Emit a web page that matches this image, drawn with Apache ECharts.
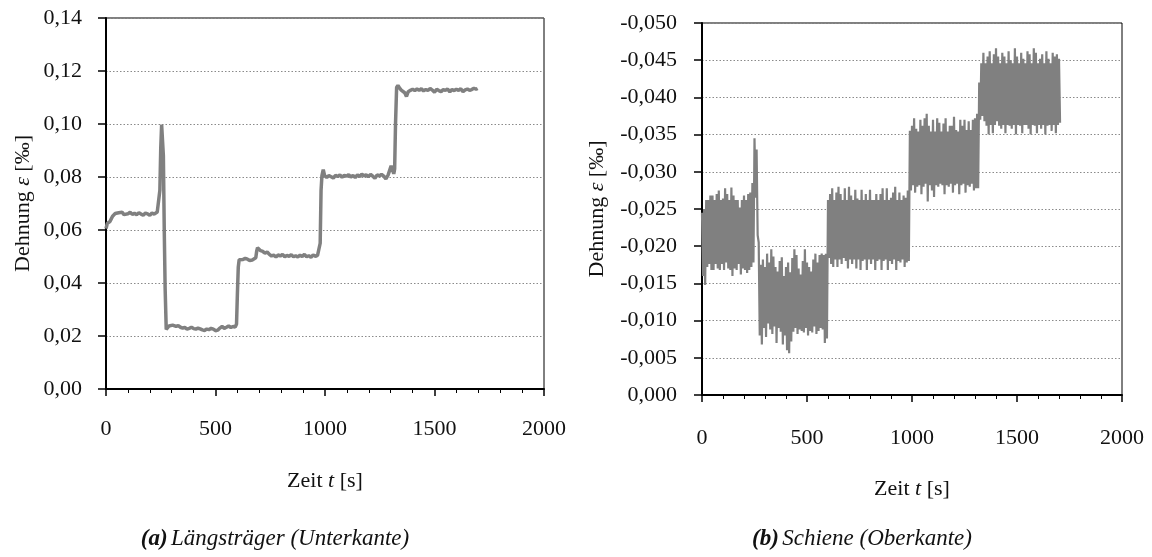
<!DOCTYPE html>
<html>
<head>
<meta charset="utf-8">
<script src="https://cdn.jsdelivr.net/npm/echarts@6/dist/echarts.min.js"></script>
<style>
  html, body { margin: 0; padding: 0; background: #fff; }
  #chart { width: 1152px; height: 557px; }
</style>
</head>
<body>
<div id="chart"></div>
<script>
// (a) Längsträger (Unterkante): Zeit [s] und Dehnung [‰]
const zeitL = [
  0, 3, 6, 10, 14, 18, 24, 30, 36, 42,
  50, 58, 66, 74, 82, 90, 100, 110, 120, 130,
  140, 150, 160, 170, 180, 190, 200, 210, 220, 228,
  234, 240, 246, 250, 254, 258, 262, 266, 270, 275,
  280, 288, 296, 304, 312, 320, 330, 340, 350, 360,
  370, 380, 390, 400, 410, 420, 430, 440, 450, 460,
  470, 480, 490, 500, 510, 520, 530, 540, 550, 560,
  570, 580, 590, 596, 600, 604, 608, 616, 626, 636,
  646, 656, 662, 668, 676, 684, 688, 692, 698, 706,
  716, 726, 736, 746, 756, 766, 776, 786, 796, 806,
  816, 826, 836, 846, 856, 866, 876, 886, 896, 906,
  916, 926, 936, 946, 956, 966, 974, 978, 982, 986,
  992, 998, 1008, 1018, 1028, 1038, 1048, 1058, 1068, 1078,
  1088, 1098, 1108, 1118, 1128, 1138, 1148, 1158, 1168, 1178,
  1188, 1198, 1208, 1218, 1228, 1238, 1248, 1258, 1268, 1278,
  1288, 1296, 1302, 1308, 1314, 1318, 1322, 1327, 1333, 1340,
  1348, 1356, 1364, 1372, 1380, 1390, 1400, 1410, 1420, 1430,
  1440, 1450, 1460, 1470, 1480, 1490, 1500, 1510, 1520, 1530,
  1540, 1550, 1560, 1570, 1580, 1590, 1600, 1610, 1620, 1630,
  1640, 1650, 1660, 1670, 1680, 1690, 1697
];
const dehnungL = [
  0.0605, 0.0615, 0.0625, 0.0618, 0.0630, 0.0632, 0.0642, 0.0652, 0.0648, 0.0662,
  0.0658, 0.0665, 0.0660, 0.0667, 0.0658, 0.0664, 0.0661, 0.0667, 0.0659, 0.0663,
  0.0658, 0.0665, 0.0660, 0.0656, 0.0664, 0.0661, 0.0655, 0.0664, 0.0660, 0.0658,
  0.0668, 0.0672, 0.0750, 0.0910, 0.0998, 0.0992, 0.0880, 0.0600, 0.0380, 0.0225,
  0.0232, 0.0238, 0.0236, 0.0241, 0.0238, 0.0236, 0.0239, 0.0233, 0.0230, 0.0232,
  0.0226, 0.0229, 0.0233, 0.0228, 0.0226, 0.0230, 0.0227, 0.0223, 0.0221, 0.0226,
  0.0224, 0.0229, 0.0226, 0.0220, 0.0222, 0.0230, 0.0236, 0.0229, 0.0233, 0.0238,
  0.0232, 0.0236, 0.0234, 0.0245, 0.0360, 0.0460, 0.0488, 0.0492, 0.0489, 0.0493,
  0.0490, 0.0485, 0.0478, 0.0487, 0.0491, 0.0495, 0.0520, 0.0533, 0.0528, 0.0522,
  0.0519, 0.0513, 0.0517, 0.0508, 0.0502, 0.0505, 0.0498, 0.0506, 0.0502, 0.0508,
  0.0499, 0.0504, 0.0501, 0.0507, 0.0499, 0.0503, 0.0498, 0.0505, 0.0500, 0.0508,
  0.0499, 0.0503, 0.0497, 0.0506, 0.0501, 0.0504, 0.0502, 0.0550, 0.0750, 0.0805,
  0.0828, 0.0806, 0.0798, 0.0805, 0.0801, 0.0796, 0.0806, 0.0802, 0.0808, 0.0799,
  0.0806, 0.0803, 0.0809, 0.0800, 0.0806, 0.0798, 0.0808, 0.0802, 0.0811, 0.0804,
  0.0808, 0.0801, 0.0810, 0.0803, 0.0795, 0.0808, 0.0804, 0.0810, 0.0803, 0.0793,
  0.0807, 0.0812, 0.0842, 0.0848, 0.0812, 0.0830, 0.1000, 0.1138, 0.1146, 0.1136,
  0.1128, 0.1124, 0.1118, 0.1104, 0.1122, 0.1127, 0.1131, 0.1126, 0.1132, 0.1127,
  0.1133, 0.1125, 0.1130, 0.1127, 0.1134, 0.1128, 0.1120, 0.1131, 0.1126, 0.1122,
  0.1130, 0.1127, 0.1132, 0.1121, 0.1130, 0.1126, 0.1131, 0.1127, 0.1133, 0.1122,
  0.1129, 0.1132, 0.1127, 0.1130, 0.1135, 0.1131, 0.1134
];

// (b) Schiene (Oberkante): obere / untere Ausschläge je 10 s ab t = 0
const schieneSchritt = 10;
const schieneOben = [
  -0.0245, -0.0250, -0.0262, -0.0262, -0.0268, -0.0268, -0.0262, -0.0270, -0.0275, -0.0262,
  -0.0264, -0.0278, -0.0270, -0.0262, -0.0279, -0.0268, -0.0262, -0.0262, -0.0252, -0.0262,
  -0.0268, -0.0262, -0.0270, -0.0272, -0.0285, -0.0345, -0.0330, -0.0205, -0.0175, -0.0182,
  -0.0172, -0.0190, -0.0178, -0.0196, -0.0186, -0.0172, -0.0166, -0.0180, -0.0185, -0.0160,
  -0.0172, -0.0178, -0.0165, -0.0184, -0.0196, -0.0188, -0.0170, -0.0162, -0.0180, -0.0196,
  -0.0178, -0.0172, -0.0166, -0.0182, -0.0190, -0.0178, -0.0188, -0.0190, -0.0188, -0.0190,
  -0.0262, -0.0270, -0.0278, -0.0262, -0.0272, -0.0280, -0.0270, -0.0262, -0.0278, -0.0262,
  -0.0280, -0.0268, -0.0262, -0.0276, -0.0264, -0.0262, -0.0276, -0.0262, -0.0270, -0.0262,
  -0.0276, -0.0262, -0.0262, -0.0270, -0.0262, -0.0270, -0.0278, -0.0262, -0.0278, -0.0262,
  -0.0265, -0.0272, -0.0280, -0.0262, -0.0272, -0.0262, -0.0268, -0.0265, -0.0275, -0.0355,
  -0.0362, -0.0372, -0.0358, -0.0354, -0.0370, -0.0362, -0.0372, -0.0378, -0.0362, -0.0354,
  -0.0370, -0.0354, -0.0372, -0.0366, -0.0354, -0.0365, -0.0372, -0.0354, -0.0362, -0.0362,
  -0.0374, -0.0356, -0.0354, -0.0370, -0.0362, -0.0370, -0.0356, -0.0368, -0.0356, -0.0370,
  -0.0372, -0.0378, -0.0420, -0.0446, -0.0460, -0.0446, -0.0455, -0.0462, -0.0446, -0.0458,
  -0.0466, -0.0455, -0.0446, -0.0460, -0.0455, -0.0446, -0.0462, -0.0450, -0.0446, -0.0466,
  -0.0455, -0.0446, -0.0460, -0.0452, -0.0446, -0.0462, -0.0458, -0.0446, -0.0466, -0.0460,
  -0.0446, -0.0452, -0.0458, -0.0446, -0.0462, -0.0452, -0.0446, -0.0460, -0.0455, -0.0458,
  -0.0452
];
const schieneUnten = [
  -0.0160, -0.0148, -0.0172, -0.0176, -0.0168, -0.0168, -0.0176, -0.0170, -0.0168, -0.0176,
  -0.0168, -0.0178, -0.0170, -0.0168, -0.0160, -0.0170, -0.0168, -0.0176, -0.0162, -0.0170,
  -0.0168, -0.0164, -0.0168, -0.0172, -0.0178, -0.0265, -0.0215, -0.0080, -0.0068, -0.0090,
  -0.0078, -0.0096, -0.0088, -0.0082, -0.0092, -0.0070, -0.0090, -0.0085, -0.0068, -0.0080,
  -0.0060, -0.0056, -0.0072, -0.0085, -0.0090, -0.0082, -0.0088, -0.0086, -0.0084, -0.0090,
  -0.0080, -0.0086, -0.0084, -0.0092, -0.0082, -0.0086, -0.0090, -0.0088, -0.0070, -0.0076,
  -0.0184, -0.0176, -0.0172, -0.0182, -0.0172, -0.0182, -0.0176, -0.0184, -0.0180, -0.0170,
  -0.0182, -0.0176, -0.0182, -0.0170, -0.0182, -0.0168, -0.0180, -0.0182, -0.0168, -0.0182,
  -0.0176, -0.0182, -0.0168, -0.0180, -0.0182, -0.0168, -0.0180, -0.0182, -0.0168, -0.0180,
  -0.0176, -0.0182, -0.0168, -0.0180, -0.0178, -0.0182, -0.0172, -0.0178, -0.0180, -0.0275,
  -0.0282, -0.0272, -0.0280, -0.0282, -0.0270, -0.0280, -0.0284, -0.0260, -0.0282, -0.0275,
  -0.0266, -0.0282, -0.0280, -0.0284, -0.0282, -0.0270, -0.0282, -0.0280, -0.0284, -0.0272,
  -0.0282, -0.0284, -0.0270, -0.0282, -0.0284, -0.0272, -0.0282, -0.0280, -0.0284, -0.0275,
  -0.0278, -0.0278, -0.0370, -0.0375, -0.0368, -0.0362, -0.0350, -0.0363, -0.0352, -0.0363,
  -0.0368, -0.0362, -0.0358, -0.0363, -0.0352, -0.0363, -0.0362, -0.0358, -0.0363, -0.0350,
  -0.0363, -0.0362, -0.0352, -0.0363, -0.0363, -0.0358, -0.0350, -0.0363, -0.0362, -0.0352,
  -0.0363, -0.0358, -0.0363, -0.0350, -0.0362, -0.0363, -0.0355, -0.0363, -0.0352, -0.0363,
  -0.0366
];

const xTicks = { min: 0, max: 2000, interval: 500 };

// Stil
const serif = '"Liberation Serif", "DejaVu Serif", serif';
const textColor = '#111';
const lineColor = '#808080';
const fontSize = 22;
const richName = {
  n: { fontFamily: serif, fontSize, color: textColor },
  i: { fontFamily: serif, fontSize, color: textColor, fontStyle: 'italic' }
};

const fmtX = v => String(v);
const fmtL = v => v.toFixed(2).replace('.', ',');
const fmtR = v => (Math.abs(v) < 1e-9 ? '0,000' : v.toFixed(3).replace('.', ','));

function xAxisCfg(gridIndex, labelMargin, nameGap) {
  return {
    type: 'value', gridIndex,
    min: xTicks.min, max: xTicks.max, interval: xTicks.interval,
    axisLine: { onZero: false, lineStyle: { color: '#000', width: 2 } },
    axisTick: { length: 7, lineStyle: { color: '#000', width: 1.5 } },
    minorTick: { show: true, splitNumber: 5, length: 4, lineStyle: { color: '#000', width: 1 } },
    splitLine: { show: false },
    axisLabel: { margin: labelMargin, color: textColor, fontFamily: serif, fontSize,
                 formatter: fmtX, showMinLabel: true, showMaxLabel: true },
    name: '{n|Zeit }{i|t}{n| [s]}',
    nameLocation: 'middle', nameGap,
    nameTextStyle: { rich: richName }
  };
}

function yAxisCfg(gridIndex, opts) {
  return Object.assign({
    type: 'value', gridIndex,
    axisLine: { show: true, onZero: false, lineStyle: { color: '#000', width: 2 } },
    axisTick: { show: true, length: 8, lineStyle: { color: '#000', width: 1.5 } },
    splitLine: { show: true, lineStyle: { color: '#8a8a8a', width: 1, type: [1.5, 2] } },
    name: '{n|Dehnung }{i|ε}{n| [‰]}',
    nameLocation: 'middle',
    nameTextStyle: { rich: richName }
  }, opts);
}

// Schiene: oben/unten abwechselnd -> dichtes Band
const schieneData = [];
schieneOben.forEach((v, i) => {
  const t = i * schieneSchritt;
  schieneData.push([t, v]);
  schieneData.push([t + schieneSchritt / 2, schieneUnten[i]]);
});

const laengsData = zeitL.map((t, i) => [t, dehnungL[i]]);

const chart = echarts.init(document.getElementById('chart'), null, { renderer: 'canvas' });

const captionRich = {
  b: { fontFamily: serif, fontSize: 23, fontStyle: 'italic', fontWeight: 'bold', fill: textColor },
  i: { fontFamily: serif, fontSize: 23, fontStyle: 'italic', fill: textColor }
};

chart.setOption({
  animation: false,
  backgroundColor: '#fff',
  grid: [
    { left: 106, top: 18, width: 438, height: 371, show: true, borderColor: '#000', borderWidth: 1, backgroundColor: 'transparent' },
    { left: 702, top: 23, width: 420, height: 372, show: true, borderColor: '#000', borderWidth: 1, backgroundColor: 'transparent' }
  ],
  xAxis: [xAxisCfg(0, 29, 81), xAxisCfg(1, 32, 83)],
  yAxis: [
    yAxisCfg(0, {
      min: 0, max: 0.14, interval: 0.02, nameGap: 72,
      axisLabel: { margin: 24, color: textColor, fontFamily: serif, fontSize, formatter: fmtL }
    }),
    yAxisCfg(1, {
      min: -0.05, max: 0, interval: 0.005, inverse: true, nameGap: 94,
      axisLabel: { margin: 25, color: textColor, fontFamily: serif, fontSize, formatter: fmtR }
    })
  ],
  series: [
    {
      type: 'line', xAxisIndex: 0, yAxisIndex: 0,
      data: laengsData, showSymbol: false,
      lineStyle: { color: lineColor, width: 3.5 }
    },
    {
      type: 'line', xAxisIndex: 1, yAxisIndex: 1,
      data: schieneData, showSymbol: false,
      lineStyle: { color: lineColor, width: 2.2 }
    }
  ],
  graphic: [
    {
      type: 'text', x: 275, y: 539,
      style: { text: '{b|(a)} {i|Längsträger (Unterkante)}', align: 'center', verticalAlign: 'middle', rich: captionRich }
    },
    {
      type: 'text', x: 862, y: 539,
      style: { text: '{b|(b)} {i|Schiene (Oberkante)}', align: 'center', verticalAlign: 'middle', rich: captionRich }
    }
  ]
});

window.addEventListener('resize', () => chart.resize());
</script>
</body>
</html>
